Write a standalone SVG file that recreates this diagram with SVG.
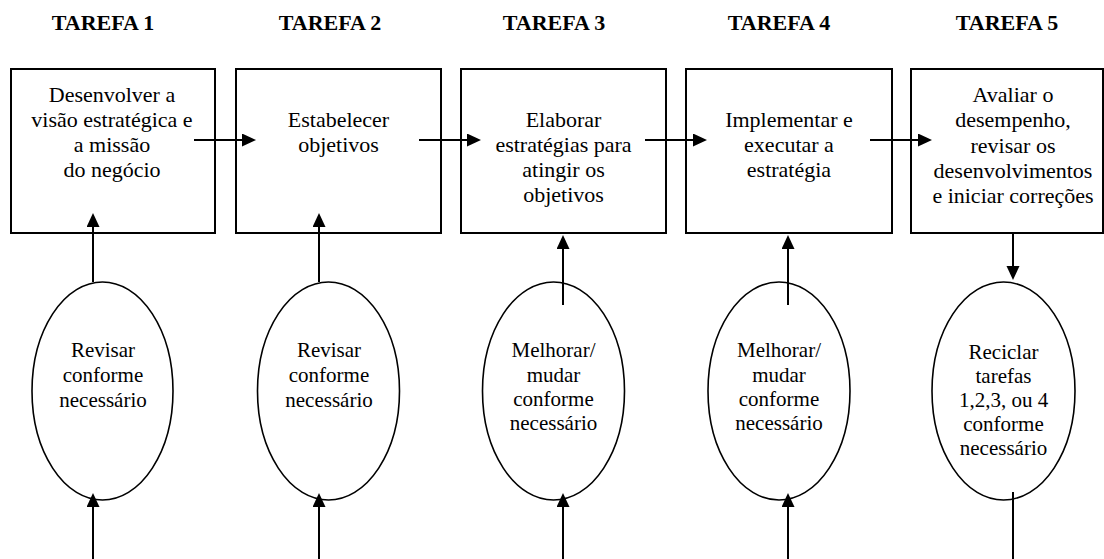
<svg xmlns="http://www.w3.org/2000/svg" width="1104" height="559" viewBox="0 0 1104 559">
  <style>
    .hdr { font-family: "Liberation Serif", "Times New Roman", serif; font-weight: bold; font-size: 22px; fill: #000; text-anchor: middle; }
    .box { fill: #fff; stroke: #000; stroke-width: 2; }
    .oval { fill: #fff; stroke: #000; stroke-width: 1.6; }
    .btxt { font-family: "Liberation Serif", "Times New Roman", serif; font-size: 22px; fill: #000; text-anchor: middle; }
    .otxt { font-family: "Liberation Serif", "Times New Roman", serif; font-size: 21px; fill: #000; text-anchor: middle; }
    .wire { fill: none; stroke: #000; stroke-width: 2; }
    .arrow { marker-end: url(#head); }
  </style>
  <defs>
    <marker id="head" markerUnits="userSpaceOnUse" markerWidth="14" markerHeight="14" refX="0" refY="6.5" orient="auto">
      <path d="M0,0 L14,6.5 L0,13 z" fill="#000"/>
    </marker>
  </defs>
  <rect width="1104" height="559" fill="#fff"/>

  <!-- column headings -->
  <g id="headers">
    <text class="hdr" x="103" y="30">TAREFA 1</text>
    <text class="hdr" x="330" y="30">TAREFA 2</text>
    <text class="hdr" x="554" y="30">TAREFA 3</text>
    <text class="hdr" x="779" y="30">TAREFA 4</text>
    <text class="hdr" x="1007" y="30">TAREFA 5</text>
  </g>

  <!-- task boxes -->
  <g id="task1">
    <rect class="box" x="11" y="69" width="204" height="164"/>
    <text class="btxt" x="112" y="102">Desenvolver a</text>
    <text class="btxt" x="112" y="127">visão estratégica e</text>
    <text class="btxt" x="112" y="152">a missão</text>
    <text class="btxt" x="112" y="177">do negócio</text>
  </g>
  <g id="task2">
    <rect class="box" x="236" y="69" width="205" height="164"/>
    <text class="btxt" x="338.5" y="127">Estabelecer</text>
    <text class="btxt" x="338.5" y="152">objetivos</text>
  </g>
  <g id="task3">
    <rect class="box" x="461" y="69" width="205" height="164"/>
    <text class="btxt" x="563.5" y="127">Elaborar</text>
    <text class="btxt" x="563.5" y="152">estratégias para</text>
    <text class="btxt" x="563.5" y="177">atingir os</text>
    <text class="btxt" x="563.5" y="202">objetivos</text>
  </g>
  <g id="task4">
    <rect class="box" x="686" y="69" width="206" height="164"/>
    <text class="btxt" x="789" y="127">Implementar e</text>
    <text class="btxt" x="789" y="152">executar a</text>
    <text class="btxt" x="789" y="177">estratégia</text>
  </g>
  <g id="task5">
    <rect class="box" x="911" y="69" width="192" height="164"/>
    <text class="btxt" x="1013" y="102">Avaliar o</text>
    <text class="btxt" x="1013" y="127">desempenho,</text>
    <text class="btxt" x="1013" y="152.5">revisar os</text>
    <text class="btxt" x="1013" y="178">desenvolvimentos</text>
    <text class="btxt" x="1013" y="203">e iniciar correções</text>
  </g>

  <!-- feedback ovals -->
  <g id="review1">
    <ellipse class="oval" cx="102.5" cy="391" rx="70.5" ry="109"/>
    <text class="otxt" x="103" y="357">Revisar</text>
    <text class="otxt" x="103" y="382">conforme</text>
    <text class="otxt" x="103" y="407">necessário</text>
  </g>
  <g id="review2">
    <ellipse class="oval" cx="328.5" cy="391" rx="71" ry="109"/>
    <text class="otxt" x="329" y="357">Revisar</text>
    <text class="otxt" x="329" y="382">conforme</text>
    <text class="otxt" x="329" y="407">necessário</text>
  </g>
  <g id="improve3">
    <ellipse class="oval" cx="553.5" cy="391" rx="71" ry="109"/>
    <text class="otxt" x="553.5" y="357">Melhorar/</text>
    <text class="otxt" x="553.5" y="381.5">mudar</text>
    <text class="otxt" x="553.5" y="406">conforme</text>
    <text class="otxt" x="553.5" y="430">necessário</text>
  </g>
  <g id="improve4">
    <ellipse class="oval" cx="779" cy="391" rx="71" ry="109"/>
    <text class="otxt" x="779" y="357">Melhorar/</text>
    <text class="otxt" x="779" y="381.5">mudar</text>
    <text class="otxt" x="779" y="406">conforme</text>
    <text class="otxt" x="779" y="430">necessário</text>
  </g>
  <g id="recycle5">
    <ellipse class="oval" cx="1003.5" cy="391" rx="71.5" ry="109"/>
    <text class="otxt" x="1003.5" y="359">Reciclar</text>
    <text class="otxt" x="1003.5" y="383">tarefas</text>
    <text class="otxt" x="1003.5" y="407">1,2,3, ou 4</text>
    <text class="otxt" x="1003.5" y="431">conforme</text>
    <text class="otxt" x="1003.5" y="455">necessário</text>
  </g>

  <!-- connectors -->
  <g id="connectors">
    <!-- task to task -->
    <line class="wire arrow" x1="194" y1="140" x2="242" y2="140"/>
    <line class="wire arrow" x1="419" y1="140" x2="467" y2="140"/>
    <line class="wire arrow" x1="645" y1="140" x2="693" y2="140"/>
    <line class="wire arrow" x1="870" y1="140" x2="918" y2="140"/>
    <!-- ovals up into tasks -->
    <line class="wire arrow" x1="93" y1="282" x2="93" y2="227"/>
    <line class="wire arrow" x1="319" y1="282" x2="319" y2="227"/>
    <line class="wire arrow" x1="563" y1="305" x2="563" y2="249"/>
    <line class="wire arrow" x1="788" y1="305" x2="788" y2="249"/>
    <!-- task 5 down into recycle oval -->
    <line class="wire arrow" x1="1013" y1="233" x2="1013" y2="266"/>
    <!-- incoming lines from below -->
    <line class="wire arrow" x1="93" y1="559" x2="93" y2="507"/>
    <line class="wire arrow" x1="319" y1="559" x2="319" y2="507"/>
    <line class="wire arrow" x1="563" y1="559" x2="563" y2="507"/>
    <line class="wire arrow" x1="788" y1="559" x2="788" y2="507"/>
    <!-- outgoing line below recycle oval -->
    <line class="wire" x1="1013" y1="492" x2="1013" y2="559"/>
  </g>
</svg>
